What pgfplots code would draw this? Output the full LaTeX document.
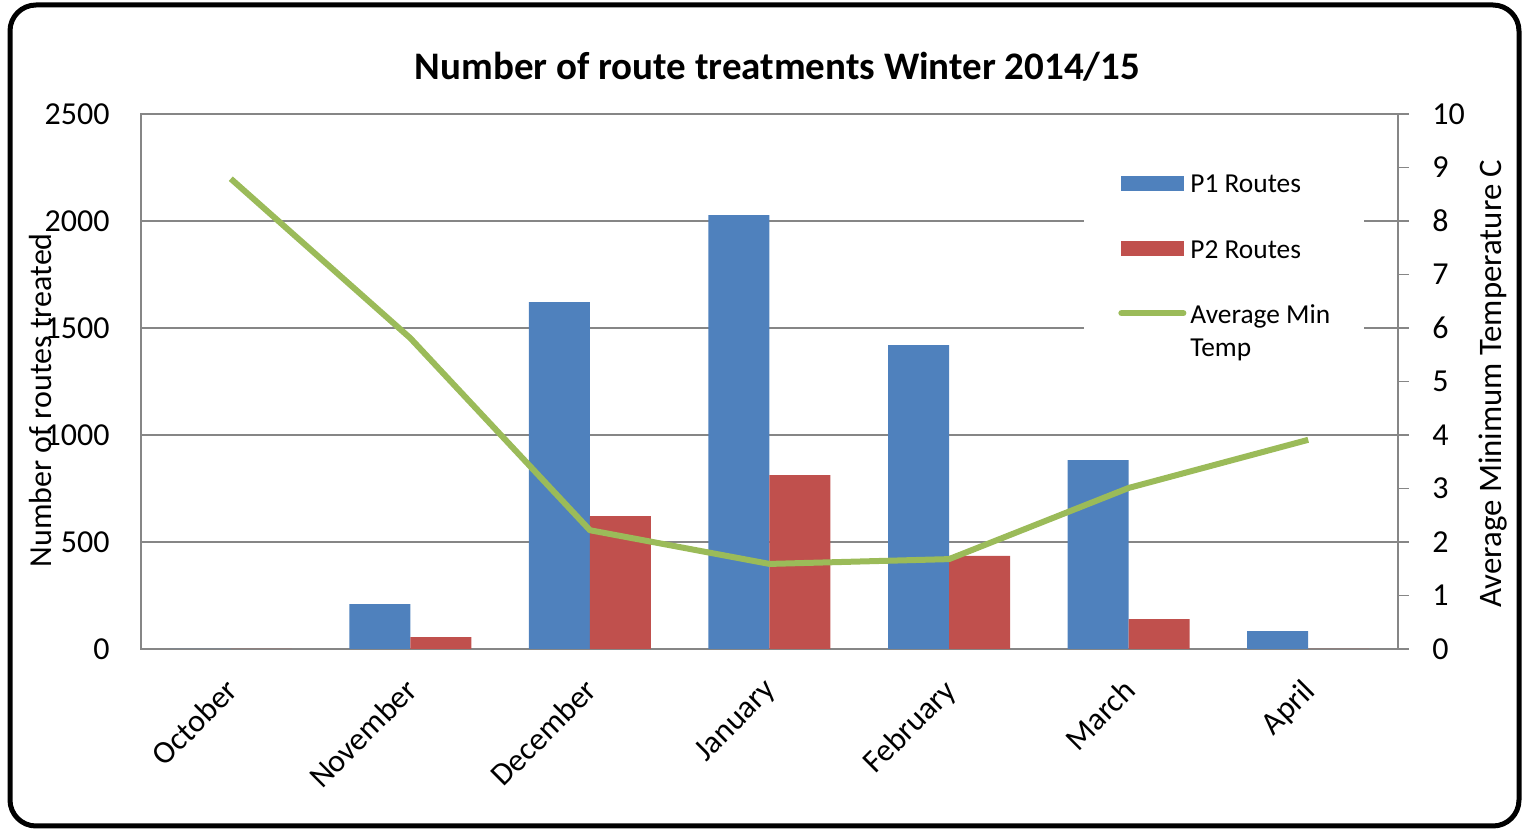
\documentclass[border=0pt]{standalone}
\usepackage{pgfplots}
\pgfplotsset{compat=1.18}
\usepackage{fontspec}
\setmainfont{Carlito}
\definecolor{pone}{RGB}{79,129,189}
\definecolor{ptwo}{RGB}{192,80,77}
\definecolor{tgreen}{RGB}{155,187,89}
\definecolor{gridg}{RGB}{134,134,134}
\begin{document}
\begin{tikzpicture}
\path[use as bounding box] (0,0) rectangle (761.5pt,415.5pt);
\draw[line width=2.5pt, rounded corners=13pt] (5pt,2.5pt) rectangle (759.5pt,413pt);
\node[anchor=base, font=\fontsize{19.5}{23}\selectfont\bfseries] at (388.75pt,375.5pt) {Number of route treatments Winter 2014/15};
\begin{axis}[
 at={(70.5pt,91pt)}, anchor=south west, scale only axis, width=628.5pt, height=267.5pt,
 xmin=-0.5, xmax=6.5, ymin=0, ymax=2500,
 ybar=0pt, bar width=30.5pt,
 xtick={0,...,6}, xticklabels={October,November,December,January,February,March,April},
 ytick={0,500,...,2500},
 ymajorgrids, grid style={gridg, line width=0.9pt},
 axis line style={gridg, line width=0.9pt},
 tick style={draw=none},
 tick label style={font=\fontsize{16}{19}\selectfont},
 /pgf/number format/assume math mode=true,
 /pgf/number format/1000 sep={},
 yticklabel style={anchor=east, inner sep=0pt, xshift=-15.5pt},
 xticklabel style={xshift=-3.5pt, yshift=-9.5pt, rotate=45, anchor=north east, inner sep=0pt},
 ylabel={Number of routes treated},
 every axis y label/.style={at={(axis description cs:-0.0796,0.465)}, rotate=90, anchor=center, font=\fontsize{16}{19}\selectfont},
]
\addplot[fill=pone, draw=none] coordinates {(0,0)(1,210)(2,1621)(3,2028)(4,1420)(5,883)(6,84)};
\addplot[fill=ptwo, draw=none] coordinates {(0,0)(1,56)(2,621)(3,813)(4,435)(5,140)(6,0)};
\end{axis}
\begin{axis}[
 at={(70.5pt,91pt)}, anchor=south west, scale only axis, width=628.5pt, height=267.5pt,
 xmin=-0.5, xmax=6.5, ymin=0, ymax=10,
 axis x line=none, axis y line*=right,
 ytick={0,...,10},
 y axis line style={gridg, line width=0.9pt, -},
 ytick style={gridg, line width=0.9pt},
 tick align=outside, major tick length=5.5pt,
 tick label style={font=\fontsize{16}{19}\selectfont},
 /pgf/number format/assume math mode=true,
 yticklabel style={anchor=west, inner sep=0pt, xshift=11.5pt},
 ylabel={Average Minimum Temperature C},
 every axis y label/.style={at={(axis description cs:1.0756,0.496)}, rotate=90, anchor=center, font=\fontsize{16.4}{19}\selectfont},
 legend cell align=left,
 legend style={at={(0.7502,0.9187)}, anchor=north west, draw=none, fill=white, inner xsep=17pt, inner ysep=6pt, font=\fontsize{13.7}{16.5}\selectfont, row sep=19.5pt, nodes={inner sep=0pt, align=left}, /tikz/every odd column/.append style={column sep=2pt}},
]
\addlegendimage{legend image code/.code={\fill[pone] (0pt,-3.5pt) rectangle (31pt,3.5pt);}}
\addlegendentry{P1 Routes\strut}
\addlegendimage{legend image code/.code={\fill[ptwo] (0pt,-3.5pt) rectangle (31pt,3.5pt);}}
\addlegendentry{P2 Routes\strut}
\addplot[tgreen, line width=3pt, line join=round, forget plot] coordinates {(0,8.79)(1,5.81)(2,2.22)(3,1.59)(4,1.68)(5,3.01)(6,3.91)};
\addlegendimage{legend image code/.code={\draw[tgreen, line width=3pt, line cap=round] (0pt,8.25pt) -- (31pt,8.25pt);}}
\addlegendentry{Average Min\strut\\Temp\strut}
\end{axis}
\end{tikzpicture}
\end{document}
